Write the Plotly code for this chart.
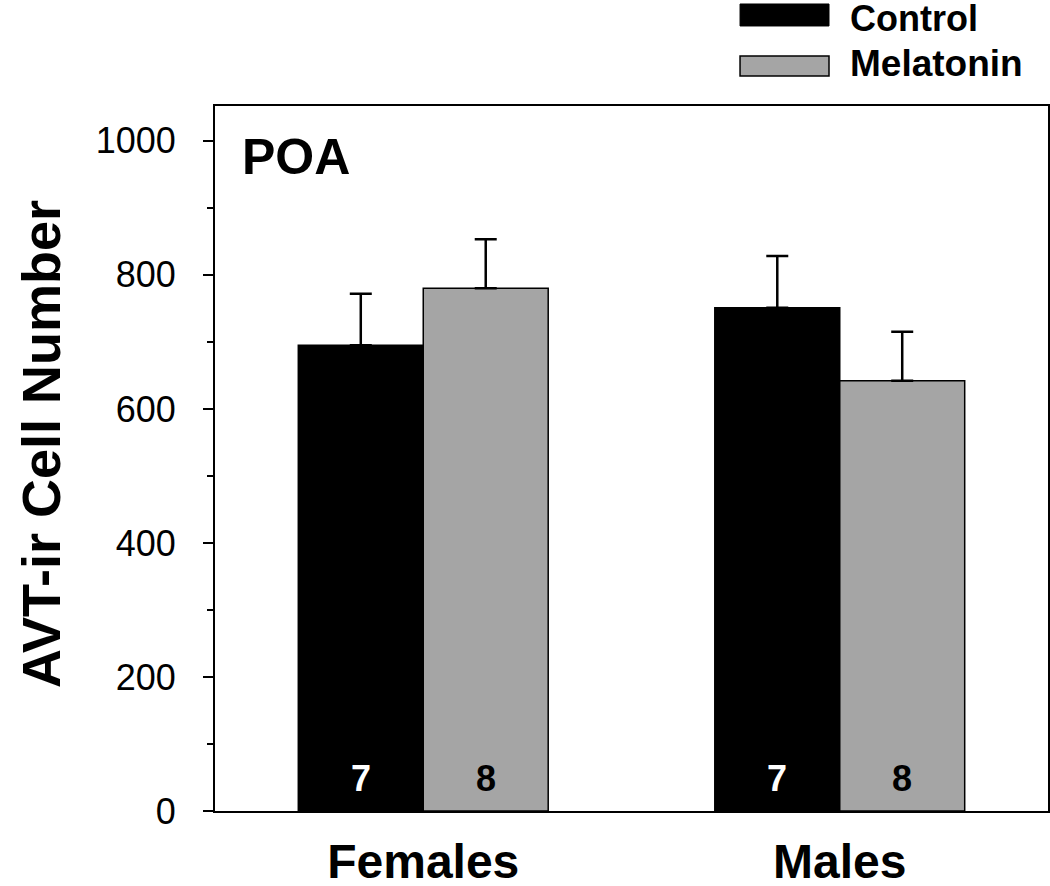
import plotly.graph_objects as go

categories = ["Females", "Males"]
cat_pos = [0, 1]
control_mean = [695, 751]
control_sem = [77, 77]
melatonin_mean = [780, 642]
melatonin_sem = [73, 73]
control_n = ["7", "7"]
melatonin_n = ["8", "8"]

FONT = "Liberation Sans, Arial, Helvetica, sans-serif"
GRAY = "#a5a5a5"

fig = go.Figure()
fig.add_trace(go.Bar(
    x=cat_pos, y=control_mean, name="Control",
    marker=dict(color="black", line=dict(color="black", width=1.5)),
    error_y=dict(type="data", array=control_sem, arrayminus=[0, 0], symmetric=False,
                 color="black", thickness=2.5, width=11),
))
fig.add_trace(go.Bar(
    x=cat_pos, y=melatonin_mean, name="Melatonin",
    marker=dict(color=GRAY, line=dict(color="black", width=1.5)),
    error_y=dict(type="data", array=melatonin_sem, arrayminus=[0, 0], symmetric=False,
                 color="black", thickness=2.5, width=11),
))

annotations = []
for i, c in enumerate(cat_pos):
    annotations.append(dict(x=c - 0.15, y=0, xref="x", yref="y", text=control_n[i],
                            showarrow=False, yanchor="bottom", yshift=10,
                            font=dict(family=FONT, size=36, color="white", weight="bold")))
    annotations.append(dict(x=c + 0.15, y=0, xref="x", yref="y", text=melatonin_n[i],
                            showarrow=False, yanchor="bottom", yshift=10,
                            font=dict(family=FONT, size=36, color="black", weight="bold")))

annotations.append(dict(x=0.030, y=0.9277, xref="paper", yref="paper", text="POA",
                        showarrow=False, xanchor="left", yanchor="middle",
                        font=dict(family=FONT, size=50, color="black", weight="bold")))
annotations.append(dict(x=0.7595, y=1.1235, xref="paper", yref="paper", text="Control",
                        showarrow=False, xanchor="left", yanchor="middle",
                        font=dict(family=FONT, size=36, color="black", weight="bold")))
annotations.append(dict(x=0.7595, y=1.0596, xref="paper", yref="paper", text="Melatonin",
                        showarrow=False, xanchor="left", yanchor="middle",
                        font=dict(family=FONT, size=37, color="black", weight="bold")))
annotations.append(dict(x=-0.2089, y=0.5206, xref="paper", yref="paper",
                        text="AVT-ir Cell Number", textangle=-90,
                        showarrow=False, xanchor="center", yanchor="middle",
                        font=dict(family=FONT, size=54, color="black", weight="bold")))

shapes = [
    dict(type="rect", xref="paper", yref="paper", x0=0.6303, x1=0.7371, y0=1.1135, y1=1.1447,
         fillcolor="black", line=dict(color="black", width=1)),
    dict(type="rect", xref="paper", yref="paper", x0=0.6303, x1=0.7371, y0=1.0426, y1=1.0709,
         fillcolor=GRAY, line=dict(color="black", width=1.5)),
]

fig.update_layout(
    width=1050, height=886,
    margin=dict(l=215, r=2, t=106, b=75),
    paper_bgcolor="white", plot_bgcolor="white",
    barmode="group", bargap=0.4, bargroupgap=0,
    showlegend=False,
    annotations=annotations, shapes=shapes,
    font=dict(family=FONT, color="black"),
)
fig.update_xaxes(
    range=[-0.5, 1.5], tickmode="array", tickvals=cat_pos, ticktext=categories,
    showgrid=False, zeroline=False, showline=True, linecolor="black", linewidth=2,
    mirror=True, ticks="", tickfont=dict(family=FONT, size=48, color="black", weight="bold"),
    ticklabelstandoff=7, automargin=False,
)
fig.update_yaxes(
    range=[0, 1052], tickmode="array", tickvals=[0, 200, 400, 600, 800, 1000],
    showgrid=False, zeroline=False, showline=True, linecolor="black", linewidth=2,
    mirror=True, ticks="outside", ticklen=10, tickwidth=2, tickcolor="black",
    tickfont=dict(family=FONT, size=36, color="black"),
    ticklabelstandoff=20, automargin=False,
    minor=dict(tickvals=[100, 300, 500, 700, 900], ticks="outside", ticklen=6, tickwidth=2,
               tickcolor="black", showgrid=False),
)

fig.write_html("out.html", config={"displayModeBar": False},
               post_script="document.body.style.margin='0';")
